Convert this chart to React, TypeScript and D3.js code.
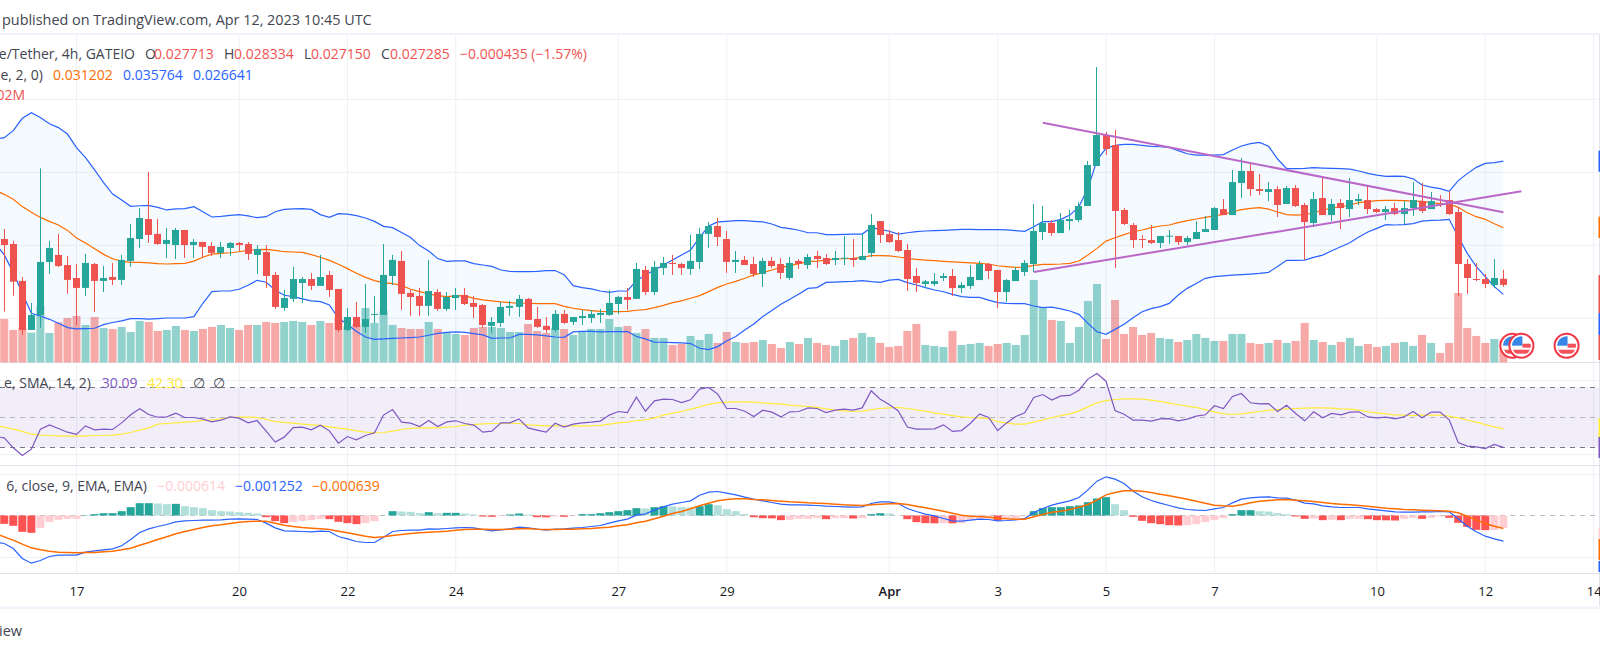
import React, { useEffect, useRef } from "react";
import * as d3 from "d3";

// bar 0 is Mar 17 00:00 UTC, bars are 4h apart
const firstBar = -9;

// prices are in 0.00001 USDT
const opens = [
  3100,
  3043,3009,2756,2420,2523,2886,2934,2865,
  2776,2708,2872,2756,2783,2763,2893,3043,3180,3078,
  3009,3002,3105,3002,3023,2995,2948,2982,3016,3009,
  2934,2954,2797,2571,2633,2742,2769,2722,2797,2701,
  2420,2509,2441,2525,2523,2790,2893,2674,2653,2585,
  2680,2564,2639,2660,2605,2591,2448,2468,2571,2578,
  2633,2495,2448,2420,2530,2475,2502,2502,2523,2523,
  2598,2646,2633,2831,2680,2845,2879,2872,2838,2886,
  3078,3132,3043,2886,2900,2872,2804,2893,2872,2776,
  2893,2865,2927,2913,2899,2908,2913,2899,2947,3166,
  3077,3036,2968,2790,2735,2735,2776,2790,2707,2721,
  2762,2872,2831,2680,2755,2817,2872,3091,3153,3084,
  3166,3173,3269,3543,3755,3687,3242,3139,3043,3036,
  3016,3059,3064,3022,3043,3091,3105,3248,3207,3427,
  3509,3385,3365,3385,3283,3392,3276,3153,3324,3207,
  3290,3248,3303,3310,3248,3228,3255,3214,3255,3303,
  3248,3283,3310,3228,2872,2769,2769,2728,2771,
];
const closes = [
  3043,
  3002,2751,2420,2523,2886,2982,2858,2763,
  2708,2879,2756,2776,2763,2900,3050,3187,3071,3009,
  3037,3105,3002,3023,2989,2948,2989,3016,3002,2941,
  2975,2790,2578,2639,2769,2769,2722,2783,2694,2420,
  2509,2441,2495,2530,2797,2900,2667,2646,2585,2687,
  2564,2646,2660,2598,2578,2454,2475,2578,2585,2633,
  2489,2441,2420,2530,2468,2509,2516,2530,2537,2605,
  2646,2626,2838,2680,2852,2879,2872,2845,2893,3078,
  3132,3057,2886,2900,2865,2804,2893,2858,2811,2879,
  2872,2920,2906,2872,2913,2915,2899,2927,3139,3070,
  3022,2961,2769,2742,2753,2755,2790,2707,2728,2783,
  2872,2824,2680,2762,2831,2879,3098,3153,3084,3173,
  3180,3269,3550,3755,3659,3235,3146,3036,3038,3016,
  3064,3066,3022,3050,3091,3111,3255,3207,3433,3509,
  3385,3372,3385,3276,3392,3269,3159,3317,3207,3283,
  3255,3310,3317,3248,3228,3248,3214,3255,3310,3235,
  3303,3276,3214,2872,2776,2762,2735,2776,2729,
];
const highs = [
  3120,
  3112,3030,2783,2605,3527,3030,3078,2927,
  2872,2941,2879,2859,2879,2934,3146,3256,3502,3180,
  3119,3119,3105,3043,3023,3023,3023,3023,3023,3023,
  3002,3002,2817,2694,2852,2783,2811,2934,2824,2701,
  2571,2612,2735,2653,3009,2934,2961,2694,2708,2900,
  2701,2680,2708,2708,2653,2598,2509,2612,2619,2660,
  2639,2578,2509,2557,2557,2509,2557,2557,2564,2694,
  2653,2708,2879,2859,2893,2920,2934,2879,3071,3119,
  3160,3187,3098,2961,2927,2920,2913,2920,2913,2920,
  2906,2940,2961,2940,2961,3064,3043,3077,3214,3166,
  3105,3091,3009,2844,2762,2810,2810,2838,2748,2865,
  2892,2879,2831,2769,2851,2899,3283,3269,3173,3221,
  3242,3296,3577,4221,3776,3790,3255,3153,3070,3139,
  3064,3105,3064,3064,3166,3201,3262,3317,3516,3598,
  3564,3488,3433,3406,3406,3413,3290,3365,3468,3317,
  3317,3461,3351,3413,3255,3269,3290,3303,3433,3427,
  3365,3344,3372,3262,2906,2879,2803,2906,2833,
];
const lows = [
  3020,
  2546,2655,2386,2420,2436,2804,2852,2667,
  2454,2653,2543,2680,2728,2728,2852,2982,3016,3002,
  2913,2906,2913,2913,2913,2927,2913,2927,2961,2900,
  2804,2708,2564,2550,2612,2605,2694,2722,2646,2406,
  2413,2434,2400,2468,2523,2728,2557,2516,2516,2516,
  2550,2550,2557,2591,2502,2434,2400,2441,2516,2509,
  2489,2434,2400,2406,2461,2454,2454,2468,2468,2516,
  2530,2557,2633,2660,2660,2797,2797,2797,2797,2838,
  2982,2995,2811,2811,2865,2783,2715,2845,2769,2763,
  2838,2838,2844,2865,2865,2865,2851,2899,2920,3016,
  3016,2954,2687,2680,2707,2721,2755,2653,2673,2701,
  2762,2769,2570,2612,2755,2790,2817,3036,3064,3084,
  3105,3159,3269,3543,3618,2844,3139,2981,2981,3009,
  2981,3009,3002,3002,3043,3091,3105,3207,3207,3324,
  3338,3344,3303,3194,3283,3262,2899,3125,3207,3166,
  3111,3194,3276,3214,3221,3173,3207,3146,3201,3221,
  3248,3262,3207,2653,2666,2755,2707,2707,2715,
];

const bbUpper = [
  3728,
  3737,3785,3870,3908,3876,3833,3806,3762,
  3669,3600,3516,3429,3351,3310,3267,3271,3274,3260,
  3242,3249,3251,3265,3230,3194,3198,3205,3210,3201,
  3189,3196,3230,3246,3249,3251,3246,3210,3191,3217,
  3214,3203,3187,3164,3130,3121,3087,3053,2998,2961,
  2909,2890,2893,2893,2874,2865,2856,2831,2822,2820,
  2820,2822,2827,2827,2799,2724,2710,2701,2687,2678,
  2687,2687,2758,2797,2831,2865,2900,2934,2968,3055,
  3132,3160,3164,3169,3169,3164,3160,3146,3123,3114,
  3103,3086,3086,3073,3073,3075,3077,3077,3121,3109,
  3096,3077,3086,3093,3098,3100,3102,3105,3109,3109,
  3107,3107,3107,3105,3100,3096,3127,3162,3162,3178,
  3207,3264,3390,3584,3664,3685,3691,3691,3685,3678,
  3675,3671,3648,3627,3618,3618,3618,3621,3653,3680,
  3696,3705,3678,3591,3525,3525,3527,3532,3529,3527,
  3525,3522,3509,3493,3481,3472,3474,3472,3456,3413,
  3399,3388,3370,3443,3491,3534,3561,3566,3576,
];
const bbMiddle = [
  3376,
  3349,3315,3265,3226,3191,3164,3139,3102,
  3050,3016,2977,2938,2908,2892,2883,2883,2879,2874,
  2872,2874,2876,2892,2918,2940,2945,2949,2956,2965,
  2970,2972,2965,2956,2954,2952,2936,2918,2897,2870,
  2840,2808,2780,2758,2744,2737,2725,2699,2683,2667,
  2655,2649,2653,2655,2637,2626,2619,2612,2607,2603,
  2603,2601,2601,2601,2582,2569,2559,2553,2548,2546,
  2546,2548,2555,2559,2573,2589,2607,2619,2637,2655,
  2683,2712,2735,2753,2774,2797,2813,2831,2849,2861,
  2874,2888,2892,2899,2906,2908,2911,2917,2929,2929,
  2927,2920,2911,2904,2899,2895,2890,2886,2883,2879,
  2876,2872,2860,2854,2849,2851,2863,2870,2870,2872,
  2876,2892,2933,2979,3029,3052,3073,3093,3105,3121,
  3132,3139,3155,3169,3180,3191,3201,3212,3230,3244,
  3253,3258,3248,3228,3210,3207,3210,3223,3242,3255,
  3264,3276,3292,3299,3306,3308,3308,3306,3303,3301,
  3292,3285,3283,3260,3223,3196,3178,3148,3120,
];
const bbLower = [
  3014,
  2934,2813,2671,2534,2516,2493,2466,2436,
  2427,2429,2432,2457,2471,2482,2498,2498,2495,2498,
  2502,2502,2502,2511,2603,2683,2687,2687,2699,2726,
  2760,2747,2694,2658,2648,2633,2619,2614,2591,2500,
  2459,2409,2372,2356,2359,2363,2365,2368,2372,2384,
  2397,2404,2407,2404,2395,2386,2363,2365,2365,2390,
  2390,2386,2379,2372,2370,2407,2411,2411,2407,2409,
  2409,2409,2375,2359,2336,2336,2333,2331,2327,2295,
  2286,2306,2345,2375,2420,2461,2512,2553,2596,2630,
  2667,2705,2710,2746,2748,2751,2753,2758,2751,2746,
  2762,2767,2744,2728,2710,2694,2682,2664,2648,2643,
  2643,2625,2607,2602,2600,2600,2584,2573,2577,2564,
  2550,2527,2465,2408,2390,2424,2459,2504,2545,2566,
  2580,2602,2659,2705,2739,2774,2785,2790,2796,2799,
  2803,2808,2815,2854,2897,2897,2899,2917,2933,2963,
  2990,3018,3057,3091,3116,3141,3139,3141,3148,3166,
  3171,3173,3178,3059,2945,2854,2785,2717,2664,
];

// volume in thousands
const volumes = [
  1500,
  1998,1492,1599,1369,2595,1354,1844,2044,
  2136,1722,2090,1584,1538,1630,1400,1906,1860,1446,
  1492,1676,1492,1446,1538,1630,1722,1584,1492,1722,
  1722,1860,1814,1860,1906,1860,1722,1906,1814,2090,
  1645,1768,2504,1814,2366,1722,1584,1538,1538,1860,
  1538,1354,1308,1262,1584,1630,1630,1584,1400,1400,
  1768,1446,1354,1584,1538,1262,1446,1538,1538,1998,
  1630,1676,1354,1538,1124,1124,802,848,1216,1032,
  1308,894,1400,940,894,940,1032,848,664,940,
  848,1125,895,803,757,1033,1125,1355,1171,895,
  711,757,1447,1769,803,757,711,1447,803,849,
  895,757,849,895,803,1263,3792,2550,1953,1907,
  895,1631,2826,3608,1079,2872,1309,1631,1263,1355,
  1125,1079,941,1033,1309,1125,987,987,1309,1309,
  895,849,895,1033,895,987,1815,1033,941,803,
  941,1125,757,849,711,757,895,941,757,1263,
  895,435,895,3194,1585,1217,895,1079,1020,
];

const rsi = [
  37.3,
  36.4,29.8,24.7,28.9,42.2,45.1,42.7,40.2,
  38.7,44.4,41.8,42.2,42,46.4,51.8,55.8,52,50.2,
  50.4,52.9,50,50,48.9,47.1,48.2,50.4,49.6,46.4,
  48,40.9,33.6,36.9,43.3,43.6,41.8,44.9,41.1,32.9,
  37.3,35.1,38,39.8,51.6,55.3,46.9,46.2,44,48,
  44,47.1,47.8,46,44.9,40.2,40.9,46.4,46.4,49.1,
  43.1,41.6,40.2,46.2,43.6,45.6,46.4,46.9,47.6,51.6,
  54,53.3,63.6,54.2,61.1,62.2,62,60,61.8,68.9,
  70,65.6,56,56,54.2,50.7,54.9,53.6,50.4,53.8,
  54,56.4,56,53.3,54.9,55.6,54.9,56.4,67.8,62.2,
  58.7,54.4,43.6,42.2,42.2,42.4,45.1,40.7,41.3,46.2,
  52.4,50,41.3,46.4,50.7,53.1,63.3,65.3,61.6,64.4,
  64.7,68.2,75.6,79.3,74.2,54.7,52.2,48.2,48.2,47.6,
  49.1,49.3,47.8,48.9,50.9,51.8,57.8,56,64,66,
  59.8,59.1,59.3,54,58.2,52.7,47.8,53.8,49.8,52.7,
  51.8,53.6,53.8,50.4,49.8,50.2,49.1,50.4,54,49.8,
  53.6,53.6,48.4,33.3,30.9,30.4,29.3,32,30.09,
];
const rsiMa = [
  44.7,
  43.6,42.2,40.7,38.9,38.2,38,37.8,37.6,
  37.6,37.8,38,38,38.2,38.9,40,41.6,43.1,45.6,
  46,46.4,46.9,47.3,48,48.4,49.1,50,50.2,50.2,
  50,48.7,47.3,46.7,46.2,45.6,45.1,44.7,43.8,42.9,
  42.2,41.1,40.2,39.8,40,40.9,42,42.7,43.1,43.1,
  43.1,43.6,44,44.9,45.3,45.8,46,46,46.2,46,
  45.1,44.7,44.4,44.4,44.4,44.4,44.2,44.4,44.7,45.6,
  46.4,46.9,48,48.4,49.8,51.6,52.9,54,55.6,57.1,
  58.7,59.8,60.2,60.4,60.4,60.2,59.8,59.3,58.9,58.2,
  57.8,57.3,56.7,55.8,54.9,54.4,54,54.2,55.3,56,
  56.4,56.7,56,55.1,54.2,53.1,52.2,51.3,50.4,50,
  49.8,49.3,47.3,46.2,45.6,45.6,46.9,48.4,50,51.3,
  52.4,54.4,57.1,59.8,61.3,62,62.4,62.4,62.2,61.6,
  60.7,59.6,58.5,57.6,56.7,55.3,53.8,52.4,52,52.4,
  53.3,54,54.9,55.3,55.8,56,56.2,56.4,56.4,56.2,
  55.8,55.6,54.9,53.8,53.1,52.4,51.8,51.6,51.3,51.6,
  51.6,51.6,50.9,49.8,48.2,46.9,45.3,43.8,42.3,
];

// MACD values are in 0.000001 USDT
const macdLine = [
  -1304,
  -1369,-1614,-2103,-2331,-2201,-2005,-1940,-1940,
  -1940,-1793,-1728,-1679,-1630,-1483,-1174,-831,-652,-538,
  -440,-310,-261,-245,-228,-228,-212,-179,-163,-179,
  -196,-375,-603,-750,-766,-782,-799,-766,-782,-1027,
  -1141,-1271,-1320,-1320,-1060,-782,-734,-717,-717,-652,
  -668,-636,-603,-587,-603,-685,-750,-701,-652,-571,
  -603,-668,-717,-668,-652,-619,-587,-538,-489,-375,
  -261,-179,16,82,261,424,554,636,717,994,
  1141,1174,1092,1011,897,799,717,636,554,522,
  522,505,489,456,440,424,408,424,587,668,
  668,587,342,196,65,-16,-147,-261,-277,-228,
  -179,-196,-261,-245,-212,-147,147,342,505,619,
  717,880,1255,1679,1891,1777,1565,1190,913,734,
  603,489,375,293,261,245,326,391,619,799,
  864,897,913,864,848,750,603,570,473,424,
  391,391,391,326,277,228,179,163,163,179,
  179,196,179,-163,-522,-799,-1011,-1141,-1252,
];
const signalLine = [
  -880,
  -1043,-1206,-1402,-1581,-1679,-1744,-1793,-1809,
  -1826,-1809,-1809,-1777,-1744,-1679,-1597,-1451,-1320,-1174,
  -1043,-897,-782,-685,-587,-505,-456,-391,-326,-293,
  -277,-277,-375,-473,-538,-587,-619,-652,-685,-766,
  -848,-929,-1011,-1076,-1043,-978,-929,-880,-848,-815,
  -799,-766,-717,-685,-668,-668,-685,-685,-668,-652,
  -636,-668,-685,-685,-668,-668,-652,-636,-603,-571,
  -505,-456,-359,-277,-163,-33,98,196,326,473,
  603,717,782,815,815,782,766,734,701,668,
  652,619,603,587,554,522,505,489,522,554,
  570,587,538,456,375,293,212,114,16,-33,
  -49,-82,-130,-163,-179,-179,-65,49,163,212,
  293,408,538,750,1011,1125,1206,1223,1190,1125,
  1043,962,880,799,701,603,505,473,456,522,
  619,701,734,766,782,750,717,685,636,587,
  554,522,489,456,408,359,326,293,277,261,
  245,228,212,130,-33,-212,-391,-522,-639,
];
const macdHist = [
  -300,
  -408,-505,-799,-848,-603,-310,-212,-163,
  -163,16,65,114,114,212,408,603,603,587,
  554,570,456,408,359,261,212,196,163,130,
  98,-82,-277,-375,-310,-261,-228,-163,-179,-310,
  -375,-424,-375,-277,0,212,196,179,114,163,
  114,130,130,98,49,-49,-65,-33,49,98,
  49,-82,-90,-49,-65,-16,65,65,114,163,
  212,261,359,342,408,456,440,408,391,456,
  554,505,310,212,65,-82,-130,-139,-228,-212,
  -163,-163,-130,-179,-130,-130,-147,-130,65,114,
  98,0,-179,-326,-375,-383,-375,-383,-375,-228,
  -163,-147,-245,-147,-147,-33,212,359,408,408,
  456,489,652,831,897,554,261,-65,-261,-375,
  -424,-473,-489,-473,-424,-326,-228,-130,65,261,
  261,212,196,114,65,-49,-163,-147,-228,-212,
  -228,-163,-163,-179,-228,-236,-245,-163,-114,-163,
  -114,-49,-114,-359,-554,-701,-717,-717,-614,
];

// trendlines as [bar, price]
const fallingTrend = [[107, 3840], [158, 3226]];
const risingTrend = [[106, 2817], [160, 3370]];

const tickBars = [0, 18, 30, 42, 60, 72, 90, 102, 114, 126, 144, 156, 168];
const tickLabels = ["17", "20", "22", "24", "27", "29", "Apr", "3", "5", "7", "10", "12", "14"];
const priceGrid = [2500, 3000, 3500, 4000];
const eventBars = [159, 160, 165];

const UP = "#26a69a";
const DOWN = "#ef5350";
const BLUE = "#2962ff";
const ORANGE = "#ff6d00";
const PURPLE = "#7e57c2";
const FONT = "'Open Sans', sans-serif";

const App: React.FC = () => {
  const svgRef = useRef<SVGSVGElement>(null);

  useEffect(() => {
    const svg = d3.select(svgRef.current);
    svg.selectAll("*").remove();

    const bars = d3.range(opens.length).map((i) => i + firstBar);

    // 9.03px per 4h bar
    const x = d3.scaleLinear().domain([0, 156]).range([76.5, 1485.3]);
    const priceY = d3.scaleLinear().domain([2500, 4000]).range([318.3, 99.3]);
    const volY = d3.scaleLinear().domain([0, 11500]).range([362.4, 112.4]);
    const rsiY = d3.scaleLinear().domain([30, 70]).range([447.5, 387.5]);
    const macdY = d3.scaleLinear().domain([0, 1000]).range([515.5, 495.05]);

    const gridColor = "#eef0f5";
    const paneColor = "#e0e3eb";

    // Page bands and pane borders
    svg.append("rect").attr("x", 0).attr("y", 33).attr("width", 1600).attr("height", 2).attr("fill", "#f0f3fa");
    svg.append("rect").attr("x", 0).attr("y", 606.5).attr("width", 1600).attr("height", 2.5).attr("fill", "#f0f3fa");

    // Grid
    const grid = svg.append("g").attr("stroke", gridColor).attr("stroke-width", 1);
    tickBars.forEach((b) => {
      grid.append("line").attr("x1", x(b)).attr("x2", x(b)).attr("y1", 35).attr("y2", 573.5);
    });
    priceGrid.forEach((p) => {
      grid.append("line").attr("x1", 0).attr("x2", 1600).attr("y1", priceY(p)).attr("y2", priceY(p));
    });
    [380.5, 454.5, 474.5, 557.5].forEach((y) => {
      grid.append("line").attr("x1", 0).attr("x2", 1600).attr("y1", y).attr("y2", y);
    });

    [362.5, 465.5, 573.5].forEach((y) => {
      svg.append("line").attr("x1", 0).attr("x2", 1600).attr("y1", y).attr("y2", y).attr("stroke", paneColor);
    });
    svg.append("line").attr("x1", 1599.5).attr("x2", 1599.5).attr("y1", 35).attr("y2", 606).attr("stroke", paneColor);

    // Volume
    svg
      .append("g")
      .selectAll("rect")
      .data(volumes)
      .join("rect")
      .attr("x", (_, i) => x(bars[i]) - 4)
      .attr("width", 8)
      .attr("y", (d) => volY(d))
      .attr("height", (d) => volY(0) - volY(d))
      .attr("fill", (_, i) => (closes[i] >= opens[i] ? UP : DOWN))
      .attr("opacity", 0.5);

    // Bollinger bands
    const bandArea = d3
      .area<number>()
      .x((_, i) => x(bars[i]))
      .y0((_, i) => priceY(bbLower[i]))
      .y1((d) => priceY(d));
    svg.append("path").attr("d", bandArea(bbUpper)).attr("fill", "#2196f3").attr("opacity", 0.05);

    const priceLine = d3
      .line<number>()
      .x((_, i) => x(bars[i]))
      .y((d) => priceY(d));
    const lineWidth = 1.2;
    svg.append("path").attr("d", priceLine(bbUpper)).attr("fill", "none").attr("stroke", BLUE).attr("stroke-width", lineWidth);
    svg.append("path").attr("d", priceLine(bbLower)).attr("fill", "none").attr("stroke", BLUE).attr("stroke-width", lineWidth);
    svg.append("path").attr("d", priceLine(bbMiddle)).attr("fill", "none").attr("stroke", ORANGE).attr("stroke-width", lineWidth);

    // Candles
    const candles = svg.append("g");
    bars.forEach((b, i) => {
      const color = closes[i] >= opens[i] ? UP : DOWN;
      const cx = Math.round(x(b) - 0.5) + 0.5;
      candles
        .append("line")
        .attr("x1", cx)
        .attr("x2", cx)
        .attr("y1", priceY(highs[i]))
        .attr("y2", priceY(lows[i]))
        .attr("stroke", color);
      const top = priceY(Math.max(opens[i], closes[i]));
      const bottom = priceY(Math.min(opens[i], closes[i]));
      candles
        .append("rect")
        .attr("x", cx - 3.5)
        .attr("width", 7)
        .attr("y", top)
        .attr("height", Math.max(bottom - top, 1))
        .attr("fill", color);
    });

    // Trendlines
    [fallingTrend, risingTrend].forEach((t) => {
      svg
        .append("line")
        .attr("x1", x(t[0][0]))
        .attr("y1", priceY(t[0][1]))
        .attr("x2", x(t[1][0]))
        .attr("y2", priceY(t[1][1]))
        .attr("stroke", "#ba68c8")
        .attr("stroke-width", 2);
    });

    // Event flags
    eventBars.forEach((b, k) => {
      const g = svg.append("g").attr("transform", `translate(${x(b)},345.7)`);
      const clipId = `flag-${k}`;
      g.append("clipPath").attr("id", clipId).append("circle").attr("r", 9.5);
      g.append("circle").attr("r", 12).attr("fill", "#fff").attr("stroke", "#f23645").attr("stroke-width", 2);
      const inner = g.append("g").attr("clip-path", `url(#${clipId})`);
      inner.append("rect").attr("x", -10).attr("y", -10).attr("width", 11).attr("height", 10).attr("fill", "#3a86e8");
      inner.append("rect").attr("x", 1).attr("y", -2).attr("width", 10).attr("height", 4).attr("fill", "#f0535a");
      inner.append("rect").attr("x", -10).attr("y", 4).attr("width", 20).attr("height", 4).attr("fill", "#f0535a");
    });

    // RSI pane
    svg
      .append("rect")
      .attr("x", 0)
      .attr("width", 1599)
      .attr("y", rsiY(70))
      .attr("height", rsiY(30) - rsiY(70))
      .attr("fill", PURPLE)
      .attr("opacity", 0.1);
    [70, 50, 30].forEach((v) => {
      svg
        .append("line")
        .attr("x1", 0)
        .attr("x2", 1597)
        .attr("y1", rsiY(v))
        .attr("y2", rsiY(v))
        .attr("stroke", "#787b86")
        .attr("stroke-dasharray", "5,5")
        .attr("opacity", v === 50 ? 0.5 : 1);
    });
    const rsiLine = d3
      .line<number>()
      .x((_, i) => x(bars[i]))
      .y((d) => rsiY(d));
    svg.append("path").attr("d", rsiLine(rsiMa)).attr("fill", "none").attr("stroke", "#ffeb3b").attr("stroke-width", lineWidth);
    svg.append("path").attr("d", rsiLine(rsi)).attr("fill", "none").attr("stroke", PURPLE).attr("stroke-width", lineWidth);

    // MACD pane
    svg
      .append("line")
      .attr("x1", 0)
      .attr("x2", 1597)
      .attr("y1", macdY(0))
      .attr("y2", macdY(0))
      .attr("stroke", "#787b86")
      .attr("stroke-dasharray", "5,5")
      .attr("opacity", 0.5);
    const histColor = (d: number, i: number) => {
      const rising = i === 0 ? false : d >= macdHist[i - 1];
      if (d >= 0) return rising ? UP : "#b2dfdb";
      return rising ? "#ffcdd2" : "#ff5252";
    };
    svg
      .append("g")
      .selectAll("rect")
      .data(macdHist)
      .join("rect")
      .attr("x", (_, i) => x(bars[i]) - 4)
      .attr("width", 8)
      .attr("y", (d) => Math.min(macdY(d), macdY(0)))
      .attr("height", (d) => Math.abs(macdY(d) - macdY(0)))
      .attr("fill", histColor);
    const macdPath = d3
      .line<number>()
      .x((_, i) => x(bars[i]))
      .y((d) => macdY(d));
    svg.append("path").attr("d", macdPath(macdLine)).attr("fill", "none").attr("stroke", BLUE).attr("stroke-width", lineWidth);
    svg.append("path").attr("d", macdPath(signalLine)).attr("fill", "none").attr("stroke", ORANGE).attr("stroke-width", 1.5);

    // Time axis
    const axis = svg
      .append("g")
      .attr("transform", "translate(0,573.5)")
      .call(
        d3
          .axisBottom(x)
          .tickValues(tickBars)
          .tickSize(0)
          .tickPadding(13)
          .tickFormat((_, i) => tickLabels[i])
      );
    axis.select(".domain").remove();
    axis
      .selectAll("text")
      .attr("font-family", FONT)
      .attr("font-size", 13)
      .attr("fill", "#131722")
      .attr("font-weight", (_, i) => (tickLabels[i] === "Apr" ? 600 : 400));

    // Text rows
    const label = (
      text: string,
      px: number,
      py: number,
      color = "#131722",
      anchor = "start",
      size = 14
    ) => {
      svg
        .append("text")
        .attr("x", px)
        .attr("y", py)
        .attr("fill", color)
        .attr("text-anchor", anchor)
        .attr("font-family", FONT)
        .attr("font-size", size)
        .text(text);
    };
    const ink = "#434651";
    label("published on TradingView.com, Apr 12, 2023 10:45 UTC", 2, 25, ink, "start", 14.4);
    label("iew", -1, 636, ink, "start", 14.5);

    label("e/Tether, 4h, GATEIO", 135, 59, ink, "end");
    label("O", 145, 59, ink);
    label("0.027713", 154, 59, DOWN);
    label("H", 224, 59, ink);
    label("0.028334", 234, 59, DOWN);
    label("L", 304, 59, ink);
    label("0.027150", 311, 59, DOWN);
    label("C", 381, 59, ink);
    label("0.027285", 390, 59, DOWN);
    label("\u22120.000435 (\u22121.57%)", 460, 59, DOWN);

    label("e, 2, 0)", 43, 80, ink, "end");
    label("0.031202", 53, 80, ORANGE);
    label("0.035764", 123, 80, BLUE);
    label("0.026641", 193, 80, BLUE);
    label("02M", 25, 100, DOWN, "end");

    label("e, SMA, 14, 2)", 91, 387.7, ink, "end");
    label("30.09", 101.7, 387.7, PURPLE);
    label("42.30", 147, 387.7, "#ffeb3b");
    label("\u2205", 193, 387.7, ink);
    label("\u2205", 212.7, 387.7, ink);

    label("6, close, 9, EMA, EMA)", 147, 491, ink, "end");
    label("\u22120.000614", 157.3, 491, "#ffcdd2");
    label("\u22120.001252", 235, 491, BLUE);
    label("\u22120.000639", 312, 491, ORANGE);

    // Edge of the price axis tags
    const tags: [number, number, string][] = [
      [150.7, 171.7, BLUE],
      [216.7, 238, ORANGE],
      [275, 313, DOWN],
      [313, 335, BLUE],
      [335, 360, DOWN],
      [418, 437, "#ffeb3b"],
      [437, 458, PURPLE],
      [528, 538, "#ffcdd2"],
      [539, 560, ORANGE],
      [561, 572, BLUE],
    ];
    tags.forEach(([y0, y1, color]) => {
      svg.append("rect").attr("x", 1598.5).attr("y", y0).attr("width", 1.5).attr("height", y1 - y0).attr("fill", color);
    });
  }, []);

  return (
    <svg
      ref={svgRef}
      width={1600}
      height={652}
      style={{ position: "absolute", left: 0, top: 0, background: "#fff" }}
    />
  );
};

export default App;
